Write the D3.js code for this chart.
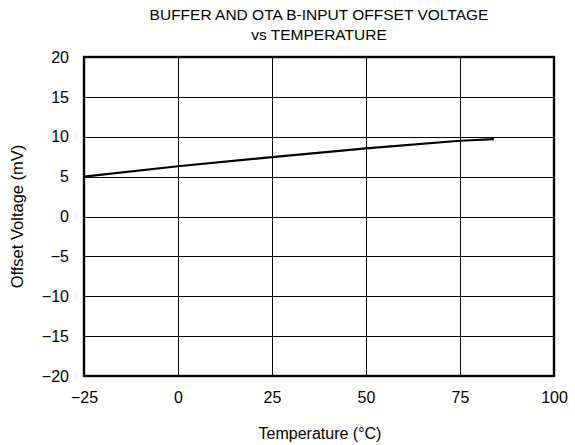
<!DOCTYPE html>
<html><head><meta charset="utf-8">
<script src="https://cdn.jsdelivr.net/npm/d3@7"></script>
<style>body{margin:0;background:#fff}svg{display:block}text{font-family:"Liberation Sans",Arial,sans-serif;fill:#000}</style>
</head><body><svg id="c" width="575" height="445"></svg>
<script>
const temps = [-25, 0, 25, 50, 75, 84];
const offsets = [5.0, 6.3, 7.45, 8.55, 9.5, 9.7];
const xTicks = [-25, 0, 25, 50, 75, 100];
const yTicks = [-20, -15, -10, -5, 0, 5, 10, 15, 20];
const titleLines = ["BUFFER AND OTA B-INPUT OFFSET VOLTAGE", "vs TEMPERATURE"];
const xLabel = "Temperature (°C)";
const yLabel = "Offset Voltage (mV)";

const svg = d3.select("#c");
const L = 84, R = 554, T = 57, B = 376;
const x = d3.scaleLinear().domain([-25, 100]).range([L, R]);
const y = d3.scaleLinear().domain([-20, 20]).range([B, T]);
const fmt = d => d < 0 ? "\u2212" + Math.abs(d) : String(d);

// grid
svg.append("g").selectAll("line").data(xTicks.slice(1, -1)).join("line")
  .attr("x1", d => Math.round(x(d)) + 0.5).attr("x2", d => Math.round(x(d)) + 0.5)
  .attr("y1", T).attr("y2", B).attr("stroke", "#000").attr("stroke-width", 1);
svg.append("g").selectAll("line").data(yTicks.slice(1, -1)).join("line")
  .attr("y1", d => Math.round(y(d)) + 0.5).attr("y2", d => Math.round(y(d)) + 0.5)
  .attr("x1", L).attr("x2", R).attr("stroke", "#000").attr("stroke-width", 1);

const xAxis = svg.append("g").attr("transform", `translate(0,${B})`)
  .call(d3.axisBottom(x).tickValues(xTicks).tickFormat(fmt).tickSize(0).tickPadding(16));
const yAxis = svg.append("g").attr("transform", `translate(${L},0)`)
  .call(d3.axisLeft(y).tickValues(yTicks).tickFormat(fmt).tickSize(0).tickPadding(15));
[xAxis, yAxis].forEach(a => {
  a.select(".domain").remove();
  a.selectAll("text").attr("font-size", 16).attr("font-family", '"Liberation Sans",Arial,sans-serif').attr("fill", "#000");
});

svg.append("path").datum(temps.map((t, i) => [t, offsets[i]]))
  .attr("d", d3.line().x(d => x(d[0])).y(d => y(d[1])))
  .attr("fill", "none").attr("stroke", "#000").attr("stroke-width", 2.2);

svg.append("rect").attr("x", L).attr("y", T).attr("width", R - L).attr("height", B - T)
  .attr("fill", "none").attr("stroke", "#000").attr("stroke-width", 2.4);

svg.append("g").selectAll("text").data(titleLines).join("text")
  .attr("x", 319).attr("y", (d, i) => 20 + i * 20).attr("text-anchor", "middle")
  .attr("font-size", 15.5).text(d => d);
svg.append("text").attr("x", 320).attr("y", 439).attr("text-anchor", "middle")
  .attr("font-size", 16).text(xLabel);
svg.append("text").attr("transform", `translate(23,${(T + B) / 2}) rotate(-90)`)
  .attr("text-anchor", "middle").attr("font-size", 16.5).text(yLabel);
</script></body></html>
